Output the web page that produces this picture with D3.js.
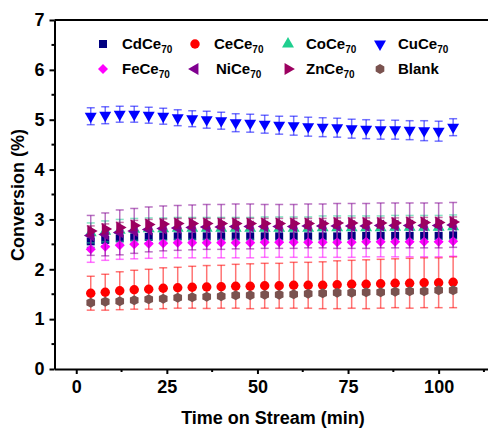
<!DOCTYPE html>
<html lang="en">
<head>
    <meta charset="UTF-8">
    <title>Conversion vs time on stream</title>
    <script src="https://d3js.org/d3.v7.min.js"></script>
    <style>
        body { margin: 0; background: #fff; }
        text { font-family: "Liberation Sans", Arial, sans-serif; font-weight: bold; fill: #000; }
    </style>
</head>
<body>
<svg width="488" height="430"></svg>

<script>
    // time on stream (min)
    const time = [4, 8, 12, 16, 20, 24, 28, 32, 36, 40, 44, 48, 52, 56, 60, 64, 68, 72, 76, 80, 84, 88, 92, 96, 100, 104];

    // conversion (%) and error per catalyst
    const cdCe = [2.56, 2.59, 2.62, 2.64, 2.65, 2.66, 2.66, 2.66, 2.66, 2.66, 2.66, 2.66, 2.66, 2.66, 2.66, 2.66, 2.66, 2.66, 2.67, 2.67, 2.67, 2.67, 2.67, 2.67, 2.67, 2.68];
    const cdErr = [0.12, 0.12, 0.12, 0.12, 0.12, 0.12, 0.12, 0.12, 0.12, 0.12, 0.12, 0.12, 0.12, 0.12, 0.12, 0.12, 0.12, 0.12, 0.12, 0.12, 0.12, 0.12, 0.12, 0.12, 0.12, 0.12];
    const ceCe = [1.52, 1.54, 1.57, 1.59, 1.60, 1.62, 1.63, 1.64, 1.645, 1.65, 1.66, 1.66, 1.67, 1.67, 1.68, 1.68, 1.68, 1.69, 1.70, 1.70, 1.71, 1.72, 1.72, 1.73, 1.73, 1.74];
    const ceErr = [0.34, 0.36, 0.38, 0.39, 0.40, 0.41, 0.41, 0.42, 0.43, 0.43, 0.44, 0.45, 0.45, 0.45, 0.46, 0.46, 0.47, 0.48, 0.48, 0.49, 0.49, 0.49, 0.50, 0.50, 0.50, 0.51];
    const coCe = [2.73, 2.76, 2.78, 2.80, 2.81, 2.81, 2.82, 2.82, 2.82, 2.82, 2.82, 2.82, 2.82, 2.82, 2.82, 2.82, 2.83, 2.83, 2.83, 2.83, 2.83, 2.84, 2.84, 2.84, 2.84, 2.85];
    const coErr = [0.20, 0.21, 0.22, 0.22, 0.22, 0.22, 0.22, 0.22, 0.22, 0.22, 0.22, 0.22, 0.23, 0.23, 0.23, 0.23, 0.24, 0.24, 0.24, 0.24, 0.24, 0.24, 0.24, 0.24, 0.24, 0.24];
    const cuCe = [5.07, 5.09, 5.11, 5.11, 5.09, 5.07, 5.04, 5.02, 5.00, 4.98, 4.94, 4.93, 4.91, 4.89, 4.88, 4.86, 4.85, 4.84, 4.82, 4.81, 4.80, 4.80, 4.79, 4.78, 4.77, 4.85];
    const cuErr = [0.17, 0.17, 0.16, 0.16, 0.16, 0.16, 0.16, 0.16, 0.17, 0.17, 0.18, 0.18, 0.18, 0.18, 0.19, 0.19, 0.19, 0.19, 0.19, 0.19, 0.19, 0.19, 0.19, 0.20, 0.20, 0.17];
    const feCe = [2.40, 2.45, 2.48, 2.50, 2.51, 2.52, 2.53, 2.53, 2.53, 2.53, 2.53, 2.53, 2.54, 2.54, 2.54, 2.54, 2.54, 2.54, 2.54, 2.55, 2.55, 2.55, 2.55, 2.55, 2.55, 2.56];
    const feErr = [0.26, 0.27, 0.28, 0.29, 0.29, 0.29, 0.30, 0.30, 0.30, 0.30, 0.30, 0.30, 0.30, 0.30, 0.30, 0.30, 0.30, 0.30, 0.30, 0.30, 0.30, 0.30, 0.30, 0.30, 0.30, 0.30];
    const niCe = [2.68, 2.70, 2.74, 2.77, 2.80, 2.82, 2.83, 2.84, 2.85, 2.85, 2.86, 2.86, 2.86, 2.86, 2.86, 2.87, 2.87, 2.87, 2.87, 2.87, 2.88, 2.88, 2.88, 2.88, 2.88, 2.89];
    const niErr = [0.40, 0.43, 0.45, 0.45, 0.45, 0.45, 0.45, 0.45, 0.45, 0.45, 0.45, 0.45, 0.44, 0.44, 0.44, 0.44, 0.44, 0.45, 0.45, 0.45, 0.45, 0.45, 0.45, 0.45, 0.45, 0.45];
    const znCe = [2.77, 2.81, 2.84, 2.88, 2.90, 2.91, 2.92, 2.92, 2.92, 2.92, 2.92, 2.92, 2.92, 2.92, 2.92, 2.92, 2.92, 2.93, 2.93, 2.93, 2.93, 2.93, 2.94, 2.94, 2.94, 2.95];
    const znErr = [0.10, 0.10, 0.10, 0.10, 0.10, 0.10, 0.10, 0.10, 0.10, 0.10, 0.10, 0.10, 0.10, 0.10, 0.10, 0.10, 0.10, 0.10, 0.10, 0.10, 0.10, 0.10, 0.10, 0.10, 0.10, 0.10];
    const blank = [1.33, 1.35, 1.36, 1.38, 1.40, 1.41, 1.43, 1.44, 1.45, 1.46, 1.48, 1.48, 1.49, 1.49, 1.50, 1.51, 1.52, 1.53, 1.53, 1.54, 1.54, 1.55, 1.56, 1.56, 1.58, 1.58];
    const blankErr = [0.05, 0.05, 0.05, 0.05, 0.05, 0.05, 0.05, 0.05, 0.05, 0.05, 0.05, 0.05, 0.05, 0.05, 0.05, 0.05, 0.05, 0.05, 0.05, 0.05, 0.05, 0.05, 0.05, 0.05, 0.05, 0.05];

    const names = ["CdCe", "CeCe", "CoCe", "CuCe", "FeCe", "NiCe", "ZnCe", "Blank"];
    const subs = ["70", "70", "70", "70", "70", "70", "70", ""];

    const xTicks = [0, 25, 50, 75, 100];
    const yTicks = [0, 1, 2, 3, 4, 5, 6, 7];

    // hexagon path for the Blank marker
    function hexagon(r) {
        const p = d3.path();
        for (let i = 0; i < 6; i++) {
            const a = Math.PI / 6 + i * Math.PI / 3;
            if (i === 0) p.moveTo(r * Math.cos(a), r * Math.sin(a));
            else p.lineTo(r * Math.cos(a), r * Math.sin(a));
        }
        p.closePath();
        return p.toString();
    }

    const sq = d3.symbol(d3.symbolSquare, 64)();
    const tri = d3.symbol(d3.symbolTriangle, 62)();
    const series = [
        {v: cdCe, e: cdErr, color: "#000080", shape: sq, rot: 0},
        {v: ceCe, e: ceErr, color: "#ff0000", shape: d3.symbol(d3.symbolCircle, 70)(), rot: 0},
        {v: coCe, e: coErr, color: "#1fcf8f", shape: tri, rot: 0},
        {v: cuCe, e: cuErr, color: "#0000ff", shape: tri, rot: 180},
        {v: feCe, e: feErr, color: "#ff00ff", shape: d3.symbol(d3.symbolSquare, 50)(), rot: 45},
        {v: niCe, e: niErr, color: "#800090", shape: tri, rot: -90},
        {v: znCe, e: znErr, color: "#9c0060", shape: tri, rot: 90},
        {v: blank, e: blankErr, color: "#7a524f", shape: hexagon(5), rot: 0}
    ];

    let svg = d3.select("svg");

    const x = d3.scaleLinear().domain([-6, 115]).range([54.5, 493]);
    const y = d3.scaleLinear().domain([0, 7]).range([369, 20]);

    // error bars and markers, one group per series
    series.forEach(function (s) {
        let g = svg.append("g");
        let eb = g.append("g")
            .attr("stroke", s.color)
            .attr("stroke-opacity", 0.55)
            .attr("stroke-width", 1.5)
            .attr("fill", "none");
        time.forEach(function (t, i) {
            const cx = x(t), y0 = y(s.v[i] - s.e[i]), y1 = y(s.v[i] + s.e[i]);
            eb.append("line").attr("x1", cx).attr("x2", cx).attr("y1", y0).attr("y2", y1);
            eb.append("line").attr("x1", cx - 4).attr("x2", cx + 4).attr("y1", y0).attr("y2", y0);
            eb.append("line").attr("x1", cx - 4).attr("x2", cx + 4).attr("y1", y1).attr("y2", y1);
        });
        g.selectAll("path")
            .data(time)
            .enter()
            .append("path")
            .attr("d", s.shape)
            .attr("fill", s.color)
            .attr("transform", (t, i) => "translate(" + x(t) + "," + y(s.v[i]) + ") rotate(" + s.rot + ")");
    });

    // axes
    const xAxis = d3.axisBottom(x).tickValues(xTicks).tickFormat(d3.format("d"))
        .tickSize(5).tickPadding(6).tickSizeOuter(0);
    const yAxis = d3.axisLeft(y).tickValues(yTicks).tickFormat(d3.format("d"))
        .tickSize(5).tickPadding(5).tickSizeOuter(0);

    let gx = svg.append("g").attr("transform", "translate(0,369)").call(xAxis);
    gx.append("g").selectAll("line")
        .data([12.5, 37.5, 62.5, 87.5, 112.5])
        .enter().append("line")
        .attr("x1", d => x(d)).attr("x2", d => x(d))
        .attr("y1", 0).attr("y2", 3).attr("stroke", "#000").attr("stroke-width", 2);

    let gy = svg.append("g").attr("transform", "translate(54.5,0)").call(yAxis);
    gy.append("g").selectAll("line")
        .data([0.5, 1.5, 2.5, 3.5, 4.5, 5.5, 6.5])
        .enter().append("line")
        .attr("x1", 0).attr("x2", -3)
        .attr("y1", d => y(d)).attr("y2", d => y(d)).attr("stroke", "#000").attr("stroke-width", 2);

    [gx, gy].forEach(function (g) {
        g.select(".domain").attr("stroke-width", 2);
        g.selectAll(".tick line").attr("stroke-width", 2);
        g.selectAll(".tick text").style("font-size", "18px").style("font-weight", "bold")
            .style("font-family", "'Liberation Sans', Arial, sans-serif").attr("fill", "#000");
    });

    // top frame line
    svg.append("line").attr("x1", 54.5).attr("x2", 493).attr("y1", 20).attr("y2", 20)
        .attr("stroke", "#000").attr("stroke-width", 2);

    // axis titles
    svg.append("text").attr("x", 273).attr("y", 424).attr("text-anchor", "middle")
        .style("font-size", "18px").text("Time on Stream (min)");
    svg.append("text").attr("transform", "translate(24,195) rotate(-90)").attr("text-anchor", "middle")
        .style("font-size", "18px").text("Conversion (%)");

    // legend
    const legX = [103, 195, 288, 380];
    const legTextX = [122, 214, 306, 398];
    const legY = [44, 69];
    series.forEach(function (s, i) {
        const col = i % 4, row = Math.floor(i / 4);
        svg.append("path").attr("d", s.shape).attr("fill", s.color)
            .attr("transform", "translate(" + legX[col] + "," + legY[row] + ") rotate(" + s.rot + ")");
        let t = svg.append("text").attr("x", legTextX[col] + (row === 1 && col === 1 ? 2 : 0))
            .attr("y", legY[row] + 5).style("font-size", "15px").text(names[i]);
        if (subs[i]) t.append("tspan").attr("dy", 4).style("font-size", "10px").text(subs[i]);
    });
</script>
</body>
</html>
